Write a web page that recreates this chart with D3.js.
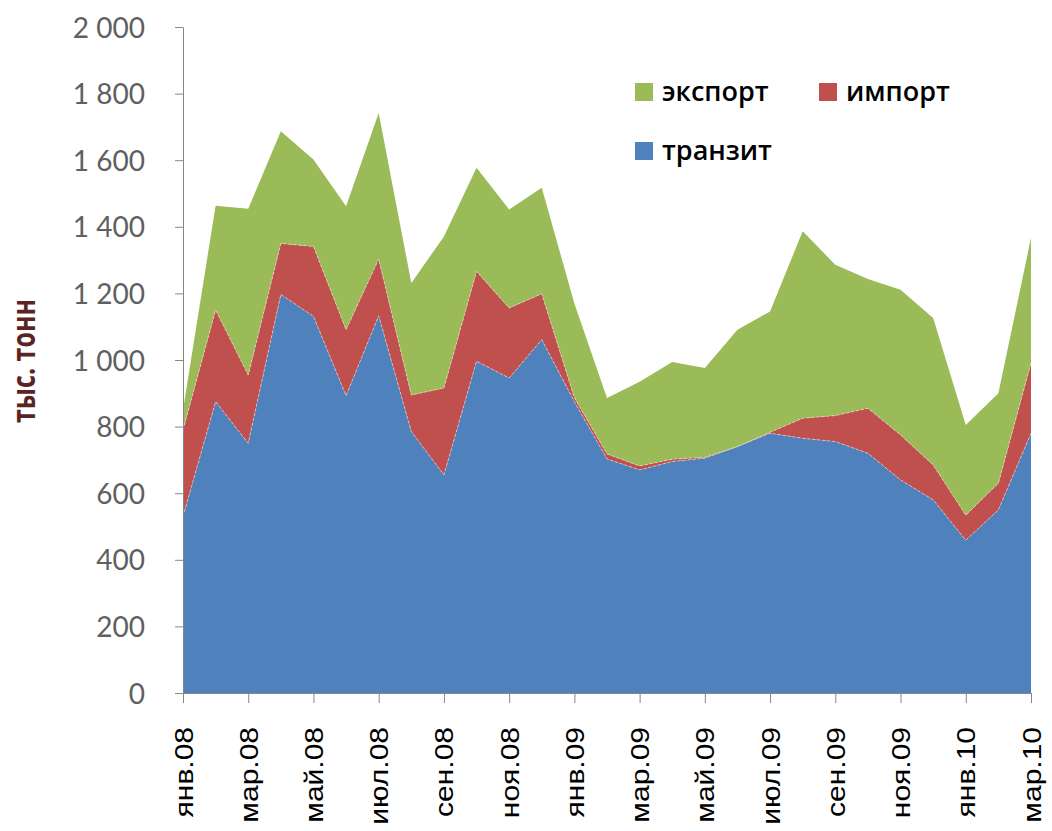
<!DOCTYPE html>
<html>
<head>
<meta charset="utf-8">
<script src="https://cdn.jsdelivr.net/npm/d3@7"></script>
<style>
  body { margin: 0; background: #fff; }
  svg { display: block; }
</style>
</head>
<body>
<svg id="chart" width="1052" height="831"></svg>
<script>
const months = [
  'янв.08', 'фев.08', 'мар.08', 'апр.08', 'май.08', 'июн.08', 'июл.08', 'авг.08', 'сен.08', 'окт.08', 'ноя.08', 'дек.08',
  'янв.09', 'фев.09', 'мар.09', 'апр.09', 'май.09', 'июн.09', 'июл.09', 'авг.09', 'сен.09', 'окт.09', 'ноя.09', 'дек.09',
  'янв.10', 'фев.10', 'мар.10'
];
const transit = [530, 875, 750, 1197, 1131, 893, 1133, 785, 655, 996, 946, 1061, 875, 703, 670, 695, 705, 740, 780, 765, 755, 720, 640, 580, 459, 550, 780];
const imports = [260, 275, 205, 153, 210, 198, 170, 110, 261, 270, 210, 138, 12, 15, 12, 7, 3, 0, 3, 60, 78, 135, 135, 105, 75, 80, 211];
const exports = [60, 313, 499, 337, 261, 371, 439, 336, 455, 311, 296, 318, 283, 168, 253, 292, 268, 351, 363, 562, 453, 388, 436, 441, 271, 270, 376];
const yTicks = [0, 200, 400, 600, 800, 1000, 1200, 1400, 1600, 1800, 2000];
const xTickLabels = months.filter((d, i) => i % 2 === 0);

const keys = ['transit', 'import', 'export'];
const colors = { transit: '#4F81BD', import: '#C0504D', export: '#9BBB59' };

const rows = months.map((m, i) => ({ month: m, transit: transit[i], import: imports[i], export: exports[i] }));

const svg = d3.select('#chart');

const x = d3.scalePoint()
  .domain(months)
  .range([183, 1031]);

const y = d3.scaleLinear()
  .domain([0, 2000])
  .range([693, 27]);

const series = d3.stack().keys(keys)(rows);

const area = d3.area()
  .x(d => x(d.data.month))
  .y0(d => y(d[0]))
  .y1(d => y(d[1]));

const line = d3.line()
  .x(d => x(d.data.month))
  .y(d => y(d[1]));

svg.append('g')
  .attr('class', 'areas')
  .selectAll('path')
  .data(series)
  .join('path')
  .attr('fill', d => colors[d.key])
  .attr('d', area);

// faint light borders along the tops of the lower layers
svg.append('g')
  .selectAll('path')
  .data(series.filter(s => s.key !== 'export'))
  .join('path')
  .attr('fill', 'none')
  .attr('stroke', '#f4dede')
  .attr('stroke-opacity', 0.7)
  .attr('stroke-width', 0.9)
  .attr('stroke-dasharray', '3,2')
  .attr('d', line);

const fmt = d => d3.format(',')(d).replace(',', ' ');

const yAxis = svg.append('g')
  .attr('class', 'yAxis')
  .attr('transform', 'translate(183,0)')
  .call(d3.axisLeft(y).tickValues(yTicks).tickFormat(fmt).tickSize(8).tickSizeOuter(0).tickPadding(30));

yAxis.select('.domain').attr('stroke', '#868686');
yAxis.selectAll('.tick line').attr('stroke', '#868686');
yAxis.selectAll('.tick text')
  .attr('fill', '#606060')
  .attr('font-family', 'Lato, "Open Sans", sans-serif')
  .attr('font-size', 28)
  .attr('dy', '0.36em');

const xAxis = svg.append('g')
  .attr('class', 'xAxis')
  .attr('transform', 'translate(0,693)')
  .call(d3.axisBottom(x).tickValues(xTickLabels).tickSize(10).tickSizeOuter(0));

xAxis.select('.domain').attr('stroke', '#868686');
xAxis.selectAll('.tick line').attr('stroke', '#868686');
xAxis.selectAll('.tick text')
  .attr('fill', '#000')
  .attr('font-family', '"Liberation Sans", Arial, sans-serif')
  .attr('font-size', 25)
  .attr('text-anchor', 'end')
  .attr('transform', 'rotate(-90) scale(1.2,1)')
  .attr('x', -34 / 1.2)
  .attr('y', 0)
  .attr('dy', '0.36em');

svg.append('text')
  .attr('class', 'yAxisLabel')
  .attr('fill', '#5a2424')
  .attr('font-family', '"Open Sans", sans-serif')
  .attr('font-weight', 'bold')
  .attr('font-size', 25)
  .attr('text-anchor', 'middle')
  .attr('transform', 'translate(35, 361) rotate(-90) scale(1,1.3)')
  .text('тыс. тонн');

const legendItems = [
  { key: 'export', label: 'экспорт', x: 635, y: 83 },
  { key: 'import', label: 'импорт', x: 819, y: 83 },
  { key: 'transit', label: 'транзит', x: 635, y: 142 }
];

const legend = svg.append('g')
  .attr('class', 'legend')
  .selectAll('g')
  .data(legendItems)
  .join('g')
  .attr('transform', d => `translate(${d.x},${d.y})`);

legend.append('rect')
  .attr('width', 18)
  .attr('height', 18)
  .attr('fill', d => colors[d.key]);

legend.append('text')
  .attr('x', 27)
  .attr('y', 18)
  .attr('fill', '#000')
  .attr('font-family', '"Open Sans", sans-serif')
  .attr('font-weight', 600)
  .attr('font-size', 27)
  .text(d => d.label);
</script>
</body>
</html>
